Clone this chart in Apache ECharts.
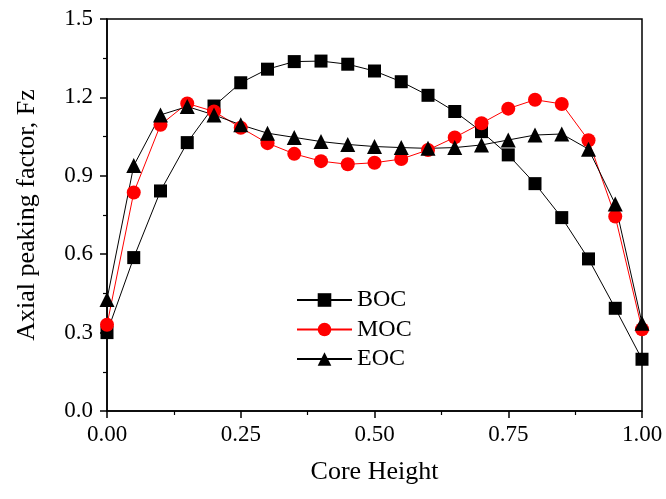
<!DOCTYPE html>
<html><head><meta charset="utf-8">
<script src="https://cdn.jsdelivr.net/npm/echarts@6/dist/echarts.min.js"></script>
<style>html,body{margin:0;padding:0;background:#fff}#c{width:666px;height:499px}</style>
</head><body><div id="c"></div>
<script>
const coreHeight = [0,0.05,0.1,0.15,0.2,0.25,0.3,0.35,0.4,0.45,0.5,0.55,0.6,0.65,0.7,0.75,0.8,0.85,0.9,0.95,1.0];
const boc = [0.30,0.587,0.842,1.027,1.167,1.256,1.308,1.337,1.339,1.327,1.301,1.260,1.208,1.146,1.069,0.980,0.870,0.740,0.582,0.393,0.198];
const moc = [0.330,0.836,1.095,1.177,1.146,1.084,1.025,0.984,0.956,0.944,0.950,0.964,0.999,1.047,1.101,1.157,1.191,1.175,1.036,0.744,0.313];
const eoc = [0.427,0.939,1.133,1.165,1.133,1.095,1.063,1.047,1.031,1.020,1.012,1.008,1.005,1.008,1.018,1.037,1.056,1.060,1.002,0.792,0.336];
const seriesNames = ['BOC','MOC','EOC'];
const FONT = '"Liberation Serif", "Times New Roman", serif';

const pairs = arr => coreHeight.map((x,i)=>[x,arr[i]]);
const chart = echarts.init(document.getElementById('c'), null, {renderer:'canvas'});
const axisCommon = {
  axisLine:{show:true,onZero:false,lineStyle:{color:'#000',width:1.5}},
  axisTick:{show:true,inside:false,length:7,lineStyle:{color:'#000',width:1.5}},
  minorTick:{show:true,splitNumber:2,length:4,lineStyle:{color:'#000',width:1.2}},
  splitLine:{show:false},
  axisLabel:{color:'#000',fontFamily:FONT,fontSize:23},
  nameTextStyle:{color:'#000',fontFamily:FONT,fontSize:26}
};
chart.setOption({
  animation:false,
  backgroundColor:'#fff',
  grid:{left:107,right:24,top:19,bottom:88,show:true,borderColor:'#000',borderWidth:1.5,backgroundColor:'transparent'},
  legend:{
    data:seriesNames, orient:'vertical', left:291, top:283,
    itemWidth:55, itemHeight:17, itemGap:5.5,
    textStyle:{color:'#000',fontFamily:FONT,fontSize:24},
  },
  xAxis:Object.assign({}, axisCommon, {
    type:'value', min:0, max:1, interval:0.25,
    name:'Core Height', nameLocation:'middle', nameGap:48,
    axisLabel:Object.assign({}, axisCommon.axisLabel, {margin:12, formatter:v=>v.toFixed(2)})
  }),
  yAxis:Object.assign({}, axisCommon, {
    type:'value', min:0, max:1.5, interval:0.3,
    name:'Axial peaking factor, Fz', nameLocation:'middle', nameGap:67,
    axisLabel:Object.assign({}, axisCommon.axisLabel, {margin:14, formatter:v=>v.toFixed(1)})
  }),
  series:[
    {name:'BOC',type:'line',data:pairs(boc),symbol:'rect',symbolSize:13,
     itemStyle:{color:'#000'},lineStyle:{color:'#000',width:1}},
    {name:'MOC',type:'line',data:pairs(moc),symbol:'circle',symbolSize:14,
     itemStyle:{color:'#ff0000'},lineStyle:{color:'#ff0000',width:1}},
    {name:'EOC',type:'line',data:pairs(eoc),symbol:'triangle',symbolSize:15,
     itemStyle:{color:'#000'},lineStyle:{color:'#000',width:1}}
  ]
});
</script></body></html>
